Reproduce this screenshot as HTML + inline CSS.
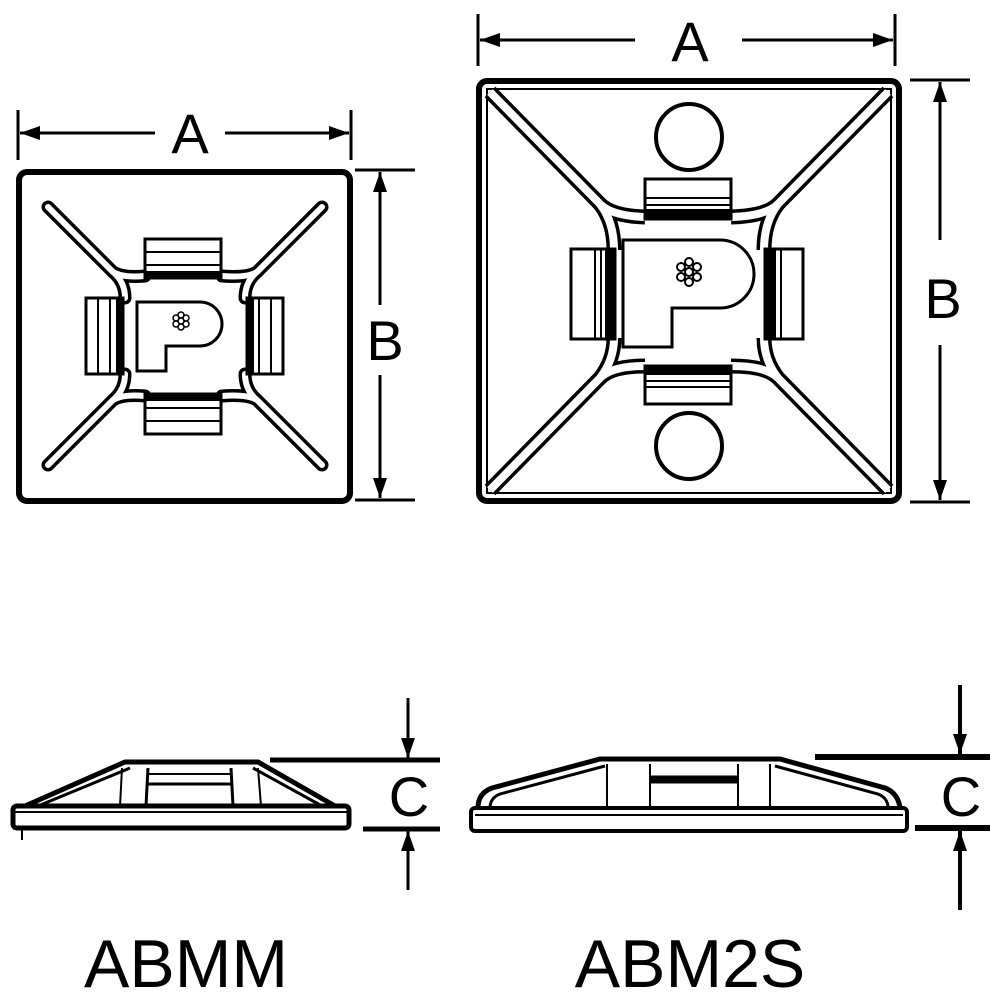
<!DOCTYPE html><html><head><style>body{margin:0;background:#fff}svg{display:block}</style></head><body>
<svg width="1000" height="1000" viewBox="0 0 1000 1000" xmlns="http://www.w3.org/2000/svg">
<defs>
<marker id="ah" viewBox="0 0 20 14" refX="20" refY="7" markerWidth="32" markerHeight="14" orient="auto-start-reverse" markerUnits="userSpaceOnUse"><path d="M0,0L20,7L0,14z"/></marker>
</defs>
<g font-family="Liberation Sans, sans-serif" fill="#000">
<!-- small top view -->
<rect x="19" y="172" width="331" height="329" rx="8" fill="none" stroke="#000" stroke-width="6"/>
<g fill="none" stroke-linecap="round">
<g stroke="#000" stroke-width="13">
<path d="M48,207 L113,272 Q125,282 125,298 M113,272 Q123,278 145,276"/>
<path d="M322,207 L257,272 Q245,282 245,298 M257,272 Q247,278 222,276"/>
<path d="M48,465 L113,400 Q125,390 125,374 M113,400 Q123,394 145,396"/>
<path d="M322,465 L257,400 Q245,390 245,374 M257,400 Q247,394 222,396"/>
</g>
<g stroke="#fff" stroke-width="6">
<path d="M48,207 L113,272 Q125,282 125,298 M113,272 Q123,278 145,276"/>
<path d="M322,207 L257,272 Q245,282 245,298 M257,272 Q247,278 222,276"/>
<path d="M48,465 L113,400 Q125,390 125,374 M113,400 Q123,394 145,396"/>
<path d="M322,465 L257,400 Q245,390 245,374 M257,400 Q247,394 222,396"/>
</g>
</g>
<g fill="#fff" stroke="#000" stroke-width="3">
<rect x="145" y="239" width="76" height="39"/><rect x="145" y="394" width="76" height="40"/>
<rect x="86" y="298" width="37" height="76"/><rect x="247" y="298" width="36" height="76"/>
</g>
<g stroke="#000" stroke-width="2">
<line x1="145" y1="252" x2="221" y2="252"/><line x1="145" y1="265" x2="221" y2="265"/><rect x="145" y="272" width="76" height="6"/>
<line x1="145" y1="408" x2="221" y2="408"/><line x1="145" y1="421" x2="221" y2="421"/><rect x="145" y="394" width="76" height="6"/>
<line x1="98" y1="298" x2="98" y2="374"/><line x1="110" y1="298" x2="110" y2="374"/><rect x="117" y="298" width="6" height="76"/>
<line x1="271" y1="298" x2="271" y2="374"/><line x1="259" y1="298" x2="259" y2="374"/><rect x="247" y="298" width="6" height="76"/>
</g>
<path d="M137,302 L200,302 A22,22 0 0 1 200,346 L166,346 L166,371 L137,371Z" fill="#fff" stroke="#000" stroke-width="3"/>
<g fill="none" stroke="#000" stroke-width="1.5"><circle cx="181" cy="321" r="3"/><circle cx="181" cy="315" r="3"/><circle cx="181" cy="327" r="3"/><circle cx="176" cy="318" r="3"/><circle cx="186" cy="318" r="3"/><circle cx="176" cy="324" r="3"/><circle cx="186" cy="324" r="3"/></g>
<!-- small dims -->
<line x1="18" y1="110" x2="18" y2="160" stroke="#000" stroke-width="3"/><line x1="351" y1="110" x2="351" y2="160" stroke="#000" stroke-width="3"/>
<line x1="20" y1="133" x2="155" y2="133" stroke="#000" stroke-width="3" marker-start="url(#ah)"/>
<line x1="225" y1="133" x2="349" y2="133" stroke="#000" stroke-width="3" marker-end="url(#ah)"/>
<text x="190" y="153" font-size="56" text-anchor="middle">A</text>
<line x1="355" y1="170" x2="415" y2="170" stroke="#000" stroke-width="3"/><line x1="355" y1="500" x2="415" y2="500" stroke="#000" stroke-width="3"/>
<line x1="380" y1="172" x2="380" y2="305" stroke="#000" stroke-width="3" marker-start="url(#ah)"/>
<line x1="380" y1="375" x2="380" y2="498" stroke="#000" stroke-width="3" marker-end="url(#ah)"/>
<text x="385" y="360" font-size="56" text-anchor="middle">B</text>

<!-- big top view -->
<rect x="479" y="81" width="420" height="420" rx="8" fill="none" stroke="#000" stroke-width="6"/>
<rect x="487" y="89" width="404" height="404" fill="none" stroke="#000" stroke-width="2"/>
<g fill="none">
<g stroke="#000" stroke-width="15">
<path d="M490,92 L600,204 Q612,216 645,217 M600,204 Q614,222 614,250"/>
<path d="M888,92 L778,204 Q766,216 731,217 M778,204 Q764,222 764,250"/>
<path d="M490,490 L600,378 Q612,366 645,366 M600,378 Q614,360 614,338"/>
<path d="M888,490 L778,378 Q766,366 731,366 M778,378 Q764,360 764,338"/>
</g>
<g stroke="#fff" stroke-width="8">
<path d="M490,92 L600,204 Q612,216 645,217 M600,204 Q614,222 614,250"/>
<path d="M888,92 L778,204 Q766,216 731,217 M778,204 Q764,222 764,250"/>
<path d="M490,490 L600,378 Q612,366 645,366 M600,378 Q614,360 614,338"/>
<path d="M888,490 L778,378 Q766,366 731,366 M778,378 Q764,360 764,338"/>
</g>
</g>
<circle cx="689" cy="137" r="33" fill="none" stroke="#000" stroke-width="4"/>
<circle cx="689" cy="446" r="33" fill="none" stroke="#000" stroke-width="4"/>
<g fill="#fff" stroke="#000" stroke-width="3">
<rect x="645" y="179" width="86" height="40"/><rect x="645" y="366" width="86" height="38"/>
<rect x="571" y="249" width="44" height="90"/><rect x="765" y="249" width="38" height="90"/>
</g>
<g stroke="#000" stroke-width="2">
<line x1="645" y1="198" x2="731" y2="198"/><line x1="645" y1="205" x2="731" y2="205"/><rect x="645" y="210" width="86" height="8"/>
<line x1="645" y1="381" x2="731" y2="381"/><line x1="645" y1="387" x2="731" y2="387"/><rect x="645" y="366" width="86" height="8"/>
<line x1="595" y1="249" x2="595" y2="339"/><line x1="601" y1="249" x2="601" y2="339"/><rect x="606" y="249" width="9" height="90"/>
<line x1="775" y1="249" x2="775" y2="339"/><line x1="781" y1="249" x2="781" y2="339"/><rect x="765" y="249" width="9" height="90"/>
</g>
<path d="M623,240 L720,240 A34,34 0 0 1 720,308 L672,308 L672,347 L623,347Z" fill="#fff" stroke="#000" stroke-width="3"/>
<g fill="none" stroke="#000" stroke-width="2"><circle cx="689" cy="272" r="4"/><circle cx="689" cy="262" r="4"/><circle cx="689" cy="282" r="4"/><circle cx="681" cy="267" r="4"/><circle cx="697" cy="267" r="4"/><circle cx="681" cy="277" r="4"/><circle cx="697" cy="277" r="4"/></g>
<!-- big dims -->
<line x1="478" y1="14" x2="478" y2="66" stroke="#000" stroke-width="3"/><line x1="895" y1="14" x2="895" y2="66" stroke="#000" stroke-width="3"/>
<line x1="480" y1="40" x2="635" y2="40" stroke="#000" stroke-width="3" marker-start="url(#ah)"/>
<line x1="742" y1="40" x2="893" y2="40" stroke="#000" stroke-width="3" marker-end="url(#ah)"/>
<text x="690" y="61" font-size="56" text-anchor="middle">A</text>
<line x1="910" y1="80" x2="970" y2="80" stroke="#000" stroke-width="3"/><line x1="910" y1="502" x2="970" y2="502" stroke="#000" stroke-width="3"/>
<line x1="940" y1="82" x2="940" y2="240" stroke="#000" stroke-width="3" marker-start="url(#ah)"/>
<line x1="940" y1="345" x2="940" y2="500" stroke="#000" stroke-width="3" marker-end="url(#ah)"/>
<text x="943" y="318" font-size="56" text-anchor="middle">B</text>

<!-- small side view -->
<g fill="none" stroke="#000">
<rect x="13" y="806" width="336" height="22" rx="4" stroke-width="5"/>
<line x1="13" y1="812" x2="349" y2="812" stroke-width="2"/>
<line x1="22" y1="830" x2="22" y2="840" stroke-width="2"/>
<path d="M25,806 L125,762 L258,762 L335,806" stroke-width="5"/>
<path d="M38,806 L130,768 M322,806 L253,768" stroke-width="3"/>
<line x1="122" y1="768" x2="120" y2="806" stroke-width="2"/><line x1="258" y1="768" x2="261" y2="806" stroke-width="2"/>
<line x1="148" y1="768" x2="146" y2="806" stroke-width="3"/><line x1="231" y1="768" x2="233" y2="806" stroke-width="3"/>
<line x1="148" y1="774" x2="231" y2="774" stroke-width="2"/><line x1="148" y1="784" x2="231" y2="784" stroke-width="3"/>
</g>
<line x1="270" y1="760" x2="440" y2="760" stroke="#000" stroke-width="5"/>
<line x1="363" y1="829" x2="440" y2="829" stroke="#000" stroke-width="5"/>
<line x1="408" y1="698" x2="408" y2="758" stroke="#000" stroke-width="3" marker-end="url(#ah)"/>
<line x1="408" y1="831" x2="408" y2="890" stroke="#000" stroke-width="3" marker-start="url(#ah)"/>
<text x="409" y="816" font-size="56" text-anchor="middle">C</text>

<!-- big side view -->
<g fill="none" stroke="#000">
<rect x="471" y="808" width="436" height="23" rx="4" stroke-width="4"/>
<line x1="475" y1="815" x2="903" y2="815" stroke-width="2"/>
<path d="M478,808 Q478,793 492,788 L600,759 L780,759 L885,788 Q898,793 900,808" stroke-width="5"/>
<path d="M490,808 Q490,798 500,794 L605,766 M888,808 Q888,798 878,794 L775,766" stroke-width="3"/>
<line x1="607" y1="764" x2="607" y2="808" stroke-width="2"/><line x1="770" y1="764" x2="770" y2="808" stroke-width="2"/>
<line x1="650" y1="764" x2="650" y2="808" stroke-width="2"/><line x1="738" y1="764" x2="738" y2="808" stroke-width="2"/>
<rect x="650" y="776" width="88" height="7" fill="#000" stroke-width="1"/>
</g>
<line x1="815" y1="757" x2="990" y2="757" stroke="#000" stroke-width="6"/>
<line x1="915" y1="828" x2="990" y2="828" stroke="#000" stroke-width="6"/>
<line x1="960" y1="685" x2="960" y2="754" stroke="#000" stroke-width="4" marker-end="url(#ah)"/>
<line x1="960" y1="831" x2="960" y2="910" stroke="#000" stroke-width="4" marker-start="url(#ah)"/>
<text x="961" y="816" font-size="56" text-anchor="middle">C</text>

<text x="186" y="987" font-size="68" text-anchor="middle">ABMM</text>
<text x="690" y="987" font-size="68" text-anchor="middle">ABM2S</text>
</g>
</svg>
</body></html>
